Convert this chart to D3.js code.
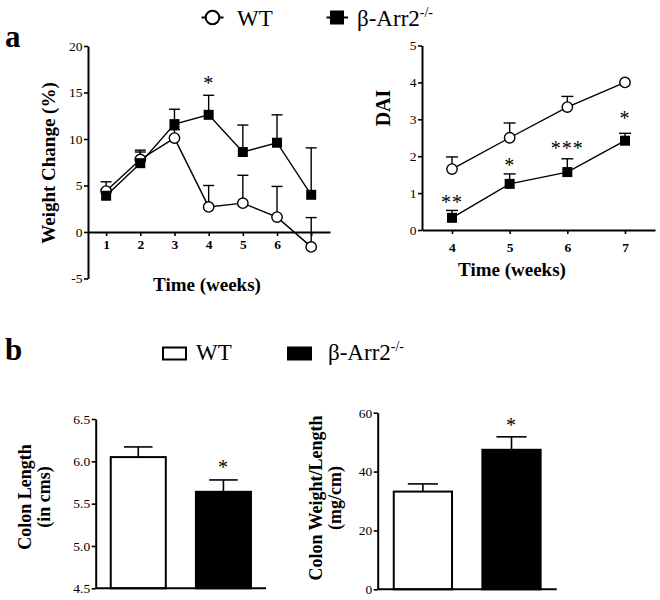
<!DOCTYPE html>
<html><head><meta charset="utf-8">
<script src="https://cdn.jsdelivr.net/npm/d3@7"></script>
<style>
html,body{margin:0;padding:0;background:#fff;}
svg{display:block;font-family:"Liberation Serif","Times New Roman",serif;}
</style></head>
<body>
<svg id="c" width="660" height="600"></svg>
<script>
// ---- Data ----
const weeks = [1, 2, 3, 4, 5, 6, 7];
const weekTickLabels = ["1", "2", "3", "4", "5", "6", ""];
const wtWeight = [4.4, 7.8, 10.1, 2.7, 3.1, 1.6, -1.6];
const wtWeightErr = [1.0, 0.8, 0.9, 2.3, 3.0, 3.3, 3.15];
const koWeight = [3.9, 7.4, 11.6, 12.6, 8.6, 9.6, 4.0];
const koWeightErr = [0.7, 1.4, 1.6, 2.1, 2.9, 3.0, 5.05];
const weightStars = ["", "", "", "*", "", "", ""];
const weightStarPos = [0, 0, 0, 16.3, 0, 0, 0];
const weightTicks = [-5, 0, 5, 10, 15, 20];

const daiWeeks = [4, 5, 6, 7];
const wtDai = [1.65, 2.5, 3.33, 4.0];
const wtDaiErr = [0.33, 0.4, 0.29, 0];
const koDai = [0.33, 1.25, 1.57, 2.42];
const koDaiErr = [0.2, 0.27, 0.36, 0.2];
const daiStars = ["**", "*", "***", "*"];
const daiStarPos = [0.84, 1.85, 2.3, 3.12];
const daiTicks = [0, 1, 2, 3, 4, 5];

const groups = ["WT", "β-Arr2-/-"];
const colonLength = [6.05, 5.64];
const colonLengthErr = [0.12, 0.14];
const colonLengthStars = ["", "*"];
const colonLengthStarPos = [0, 5.97];
const colonLengthTicks = [4.5, 5.0, 5.5, 6.0, 6.5];
const colonWL = [33.2, 47.4];
const colonWLErr = [2.6, 4.4];
const colonWLStars = ["", "*"];
const colonWLStarPos = [0, 56.9];
const colonWLTicks = [0, 20, 40, 60];

const svg = d3.select("#c");
const SERIF = '"Liberation Serif","Times New Roman",serif';
const TICK_FS = 13.5;

function styleAxis(g, bold, fs) {
  g.select(".domain").attr("stroke", "#000").attr("stroke-width", 2);
  g.selectAll(".tick line").attr("stroke", "#000").attr("stroke-width", 1.6);
  g.selectAll(".tick text").attr("fill", "#000")
    .attr("font-family", SERIF).attr("font-size", fs)
    .attr("font-weight", bold ? "bold" : "normal");
}

function star(x, yCenter, txt) {
  const fs = 20;
  svg.append("text").attr("x", x).attr("y", yCenter + fs * 0.5)
    .attr("text-anchor", "middle").attr("font-family", SERIF)
    .attr("font-size", fs).attr("letter-spacing", 1).text(txt);
}

const intFmt = d => String(d);

// ---- Top legend ----
const legTop = svg.append("g");
legTop.append("line").attr("x1", 201.5).attr("x2", 223.5).attr("y1", 17.5).attr("y2", 17.5)
  .attr("stroke", "#000").attr("stroke-width", 2);
legTop.append("circle").attr("cx", 212.5).attr("cy", 17.5).attr("r", 6.8)
  .attr("fill", "#fff").attr("stroke", "#000").attr("stroke-width", 2);
legTop.append("text").attr("x", 237).attr("y", 26).attr("font-family", SERIF)
  .attr("font-size", 23).text("WT");
legTop.append("line").attr("x1", 326.5).attr("x2", 348).attr("y1", 17.5).attr("y2", 17.5)
  .attr("stroke", "#000").attr("stroke-width", 2);
legTop.append("rect").attr("x", 330).attr("y", 10.5).attr("width", 14).attr("height", 14)
  .attr("fill", "#000");
const t1 = legTop.append("text").attr("x", 357).attr("y", 26).attr("font-family", SERIF)
  .attr("font-size", 23);
t1.append("tspan").text("β-Arr2");
t1.append("tspan").attr("dy", -9).attr("font-size", 14).text("-/-");

// ---- Panel labels ----
svg.append("text").attr("x", 5).attr("y", 46.5).attr("font-family", SERIF)
  .attr("font-weight", "bold").attr("font-size", 31).text("a");
svg.append("text").attr("x", 5).attr("y", 360).attr("font-family", SERIF)
  .attr("font-weight", "bold").attr("font-size", 31).text("b");

// ---- Panel a-left: Weight change ----
{
  const x = d3.scaleLinear().domain([0.47, 7.55]).range([88, 330]);
  const y = d3.scaleLinear().domain([-5, 20]).range([278.5, 46]);
  const gy = svg.append("g").attr("transform", "translate(88,0)")
    .call(d3.axisLeft(y).tickValues(weightTicks).tickFormat(intFmt).tickSize(4).tickPadding(1.5).tickSizeOuter(0));
  styleAxis(gy, false, TICK_FS);
  const gx = svg.append("g").attr("transform", `translate(0,${y(0)})`)
    .call(d3.axisBottom(x).tickValues(weeks).tickFormat((d, i) => weekTickLabels[i])
      .tickSize(4).tickPadding(3.5).tickSizeOuter(0));
  styleAxis(gx, true, TICK_FS);

  const line = d3.line().x((d, i) => x(weeks[i])).y(d => y(d));
  svg.append("path").datum(wtWeight).attr("d", line).attr("fill", "none")
    .attr("stroke", "#000").attr("stroke-width", 1.4);
  svg.append("path").datum(koWeight).attr("d", line).attr("fill", "none")
    .attr("stroke", "#000").attr("stroke-width", 1.4);

  function errs(vals, errsArr) {
    vals.forEach((v, i) => {
      if (!errsArr[i]) return;
      const xx = x(weeks[i]), y0 = y(v), y1 = y(v + errsArr[i]);
      svg.append("line").attr("x1", xx).attr("x2", xx).attr("y1", y0).attr("y2", y1)
        .attr("stroke", "#000").attr("stroke-width", 1.4);
      svg.append("line").attr("x1", xx - 5.5).attr("x2", xx + 5.5).attr("y1", y1).attr("y2", y1)
        .attr("stroke", "#000").attr("stroke-width", 1.4);
    });
  }
  errs(wtWeight, wtWeightErr);
  errs(koWeight, koWeightErr);

  svg.selectAll(null).data(wtWeight).enter().append("circle")
    .attr("cx", (d, i) => x(weeks[i])).attr("cy", d => y(d)).attr("r", 5.2)
    .attr("fill", "#fff").attr("stroke", "#000").attr("stroke-width", 1.4);
  svg.selectAll(null).data(koWeight).enter().append("rect")
    .attr("x", (d, i) => x(weeks[i]) - 5).attr("y", d => y(d) - 5)
    .attr("width", 10).attr("height", 10).attr("fill", "#000");

  weightStars.forEach((s, i) => { if (s) star(x(weeks[i]), y(weightStarPos[i]), s); });

  svg.append("text").attr("transform", "translate(55,163) rotate(-90)")
    .attr("text-anchor", "middle").attr("font-family", SERIF).attr("font-weight", "bold")
    .attr("font-size", 19).text("Weight Change (%)");
  svg.append("text").attr("x", 207).attr("y", 290.5).attr("text-anchor", "middle")
    .attr("font-family", SERIF).attr("font-weight", "bold").attr("font-size", 19)
    .text("Time (weeks)");
}

// ---- Panel a-right: DAI ----
{
  const x = d3.scaleLinear().domain([3.48, 7.52]).range([422, 655]);
  const y = d3.scaleLinear().domain([0, 5]).range([230, 45.5]);
  const gy = svg.append("g").attr("transform", "translate(422,0)")
    .call(d3.axisLeft(y).tickValues(daiTicks).tickFormat(intFmt).tickSize(4).tickPadding(1.5).tickSizeOuter(0));
  styleAxis(gy, false, TICK_FS);
  const gx = svg.append("g").attr("transform", "translate(0,230)")
    .call(d3.axisBottom(x).tickValues(daiWeeks).tickFormat(intFmt)
      .tickSize(4).tickPadding(8.5).tickSizeOuter(0));
  styleAxis(gx, true, TICK_FS);

  const line = d3.line().x((d, i) => x(daiWeeks[i])).y(d => y(d));
  svg.append("path").datum(wtDai).attr("d", line).attr("fill", "none")
    .attr("stroke", "#000").attr("stroke-width", 1.4);
  svg.append("path").datum(koDai).attr("d", line).attr("fill", "none")
    .attr("stroke", "#000").attr("stroke-width", 1.4);

  function errs(vals, errsArr) {
    vals.forEach((v, i) => {
      if (!errsArr[i]) return;
      const xx = x(daiWeeks[i]), y0 = y(v), y1 = y(v + errsArr[i]);
      svg.append("line").attr("x1", xx).attr("x2", xx).attr("y1", y0).attr("y2", y1)
        .attr("stroke", "#000").attr("stroke-width", 1.4);
      svg.append("line").attr("x1", xx - 6).attr("x2", xx + 6).attr("y1", y1).attr("y2", y1)
        .attr("stroke", "#000").attr("stroke-width", 1.4);
    });
  }
  errs(wtDai, wtDaiErr);
  errs(koDai, koDaiErr);

  svg.selectAll(null).data(wtDai).enter().append("circle")
    .attr("cx", (d, i) => x(daiWeeks[i])).attr("cy", d => y(d)).attr("r", 5.2)
    .attr("fill", "#fff").attr("stroke", "#000").attr("stroke-width", 1.4);
  svg.selectAll(null).data(koDai).enter().append("rect")
    .attr("x", (d, i) => x(daiWeeks[i]) - 5).attr("y", d => y(d) - 5)
    .attr("width", 10).attr("height", 10).attr("fill", "#000");

  daiStars.forEach((s, i) => star(x(daiWeeks[i]), y(daiStarPos[i]), s));

  svg.append("text").attr("transform", "translate(390,108) rotate(-90)")
    .attr("text-anchor", "middle").attr("font-family", SERIF).attr("font-weight", "bold")
    .attr("font-size", 20).text("DAI");
  svg.append("text").attr("x", 512).attr("y", 275.5).attr("text-anchor", "middle")
    .attr("font-family", SERIF).attr("font-weight", "bold").attr("font-size", 19)
    .text("Time (weeks)");
}

// ---- Bottom legend ----
{
  const g = svg.append("g");
  g.append("rect").attr("x", 163).attr("y", 347.5).attr("width", 23).attr("height", 12)
    .attr("fill", "#fff").attr("stroke", "#000").attr("stroke-width", 2);
  g.append("text").attr("x", 196).attr("y", 359.5).attr("font-family", SERIF)
    .attr("font-size", 23).text("WT");
  g.append("rect").attr("x", 287).attr("y", 346.5).attr("width", 25).attr("height", 14)
    .attr("fill", "#000");
  const t = g.append("text").attr("x", 328).attr("y", 359.5).attr("font-family", SERIF)
    .attr("font-size", 23);
  t.append("tspan").text("β-Arr2");
  t.append("tspan").attr("dy", -9).attr("font-size", 14).text("-/-");
}

// ---- Bar charts ----
function barChart(opts) {
  const x = d3.scaleBand().domain(groups).range([opts.x0, opts.x1])
    .paddingInner(opts.pi).paddingOuter(opts.po);
  const y = d3.scaleLinear().domain(opts.domain).range([opts.yb, opts.yt]);
  opts.vals.forEach((v, i) => {
    const cx = x(groups[i]) + x.bandwidth() / 2;
    const y1 = y(v + opts.errs[i]);
    svg.append("line").attr("x1", cx).attr("x2", cx).attr("y1", y(v)).attr("y2", y1)
      .attr("stroke", "#000").attr("stroke-width", 1.6);
    svg.append("line").attr("x1", cx - x.bandwidth() / 4).attr("x2", cx + x.bandwidth() / 4)
      .attr("y1", y1).attr("y2", y1).attr("stroke", "#000").attr("stroke-width", 1.6);
    if (opts.stars[i]) star(cx, y(opts.starPos[i]), opts.stars[i]);
  });
  svg.selectAll(null).data(opts.vals).enter().append("rect")
    .attr("x", (d, i) => x(groups[i]) + 1).attr("width", x.bandwidth() - 2)
    .attr("y", d => y(d)).attr("height", d => y(opts.domain[0]) - y(d))
    .attr("fill", (d, i) => i === 0 ? "#fff" : "#000")
    .attr("stroke", "#000").attr("stroke-width", 2);
  const gy = svg.append("g").attr("transform", `translate(${opts.x0},0)`)
    .call(d3.axisLeft(y).tickValues(opts.ticks).tickFormat(opts.fmt)
      .tickSize(4).tickPadding(1.5).tickSizeOuter(0));
  styleAxis(gy, false, TICK_FS);
  svg.append("line").attr("x1", opts.x0).attr("x2", opts.x1)
    .attr("y1", opts.yb).attr("y2", opts.yb).attr("stroke", "#000").attr("stroke-width", 2);
  opts.labels.forEach(l => {
    svg.append("text").attr("transform", `translate(${l.bx},${opts.labelY}) rotate(-90)`)
      .attr("text-anchor", "middle").attr("font-family", SERIF).attr("font-weight", "bold")
      .attr("font-size", 18).text(l.text);
  });
}

barChart({
  x0: 95.7, x1: 266, pi: 0.33, po: 0.165, domain: [4.5, 6.5], yb: 588.3, yt: 419,
  vals: colonLength, errs: colonLengthErr, stars: colonLengthStars, starPos: colonLengthStarPos,
  ticks: colonLengthTicks, fmt: d3.format(".1f"), labelY: 497,
  labels: [{text: "Colon Length", bx: 31}, {text: "(in cms)", bx: 50}]
});
barChart({
  x0: 377.7, x1: 556.7, pi: 0.32, po: 0.17, domain: [0, 60], yb: 589.3, yt: 412.7,
  vals: colonWL, errs: colonWLErr, stars: colonWLStars, starPos: colonWLStarPos,
  ticks: colonWLTicks, fmt: intFmt, labelY: 498,
  labels: [{text: "Colon Weight/Length", bx: 322}, {text: "(mg/cm)", bx: 341}]
});
</script>
</body></html>
